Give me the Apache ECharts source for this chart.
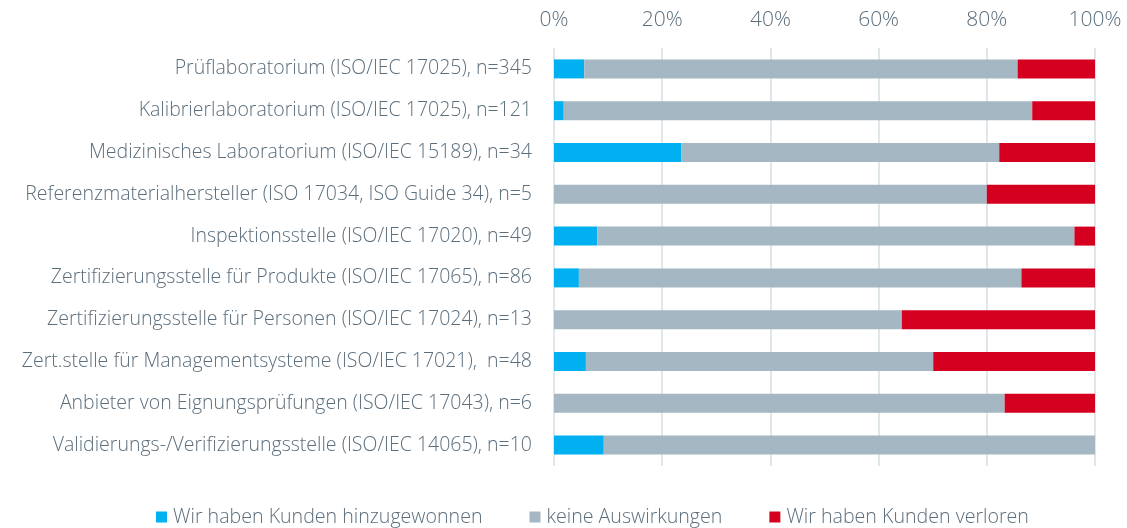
<!DOCTYPE html>
<html>
<head>
<meta charset="utf-8">
<script src="https://cdn.jsdelivr.net/npm/echarts@6/dist/echarts.min.js"></script>
<style>
  html, body { margin: 0; padding: 0; background: #fff; }
  #chart { width: 1127px; height: 528px; }
</style>
</head>
<body>
<div id="chart"></div>
<script>
// categories, top to bottom
var categories = [
  'Prüflaboratorium (ISO/IEC 17025), n=345',
  'Kalibrierlaboratorium (ISO/IEC 17025), n=121',
  'Medizinisches Laboratorium (ISO/IEC 15189), n=34',
  'Referenzmaterialhersteller (ISO 17034, ISO Guide 34), n=5',
  'Inspektionsstelle (ISO/IEC 17020), n=49',
  'Zertifizierungsstelle für Produkte (ISO/IEC 17065), n=86',
  'Zertifizierungsstelle für Personen (ISO/IEC 17024), n=13',
  'Zert.stelle für Managementsysteme (ISO/IEC 17021),  n=48',
  'Anbieter von Eignungsprüfungen (ISO/IEC 17043), n=6',
  'Validierungs-/Verifizierungsstelle (ISO/IEC 14065), n=10'
];
var gewonnen = [5.6, 1.8, 23.5, 0, 8.0, 4.6, 0, 5.9, 0, 9.2];
var keine    = [80.1, 86.6, 58.8, 80, 88.2, 81.8, 64.3, 64.2, 83.3, 90.8];
var verloren = [14.3, 11.6, 17.7, 20, 3.8, 13.6, 35.7, 29.9, 16.7, 0];
var xTicks = [0, 20, 40, 60, 80, 100];

var seriesNames = ['Wir haben Kunden hinzugewonnen', 'keine Auswirkungen', 'Wir haben Kunden verloren'];
var colors = ['#00b0f0', '#a5b7c2', '#d50020'];
var fontFam = 'Open Sans';
var textColor = '#5b6e7c';

var chart = echarts.init(document.getElementById('chart'));

function bar(name, data, color) {
  return {
    name: name,
    type: 'bar',
    stack: 'total',
    data: data,
    barWidth: 19,
    itemStyle: { color: color },
    emphasis: { disabled: true }
  };
}

chart.setOption({
  animation: false,
  grid: { left: 554, right: 32, top: 48, height: 418, containLabel: false },
  legend: {
    top: 502,
    left: 151,
    itemWidth: 11,
    itemHeight: 11,
    itemGap: 47,
    icon: 'rect',
    textStyle: { fontFamily: fontFam, fontWeight: 300, fontSize: 19.6, color: textColor, padding: [0, 0, 0, 1] },
    data: seriesNames
  },
  xAxis: {
    type: 'value',
    position: 'top',
    min: 0,
    max: 100,
    interval: 20,
    axisLine: { show: false },
    axisTick: { show: false },
    splitLine: { lineStyle: { color: '#d6dfe5', width: 1.5 } },
    axisLabel: {
      margin: 17,
      fontFamily: fontFam,
      fontWeight: 300,
      fontSize: 21,
      color: textColor,
      formatter: function (v) { return xTicks.indexOf(v) >= 0 ? v + '%' : ''; }
    }
  },
  yAxis: {
    type: 'category',
    inverse: true,
    data: categories,
    axisLine: { show: false },
    axisTick: { show: false },
    axisLabel: {
      margin: 22,
      fontFamily: fontFam,
      fontWeight: 300,
      fontSize: 19.5,
      color: textColor
    }
  },
  series: [
    bar(seriesNames[0], gewonnen, colors[0]),
    bar(seriesNames[1], keine, colors[1]),
    bar(seriesNames[2], verloren, colors[2])
  ]
});
</script>
</body>
</html>
